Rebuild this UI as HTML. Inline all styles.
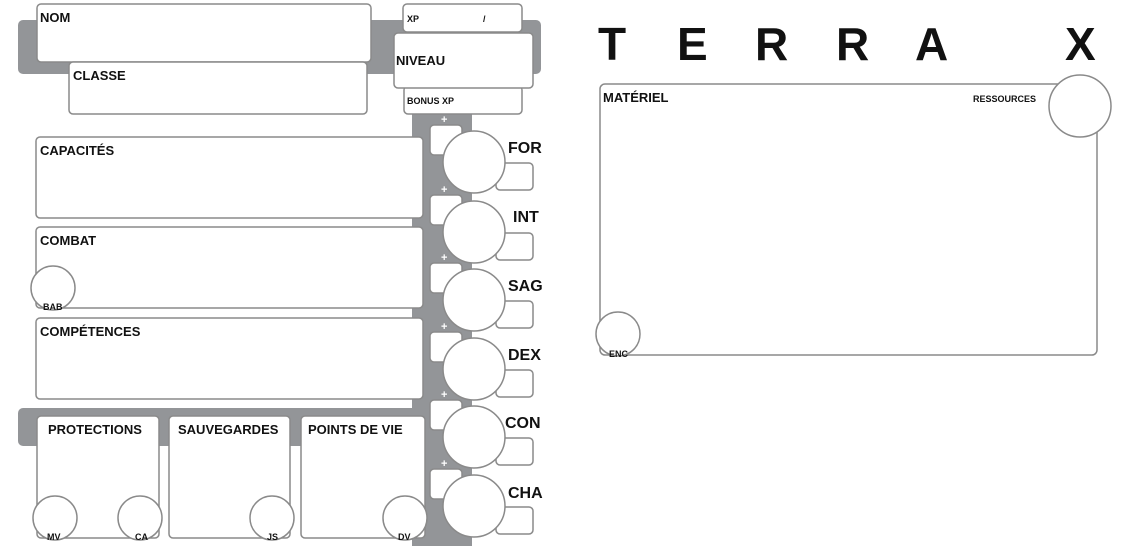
<!DOCTYPE html>
<html><head><meta charset="utf-8"><style>
html,body{margin:0;padding:0;background:#fff;width:1130px;height:550px;overflow:hidden}
svg{display:block}
text{font-family:"Liberation Sans",sans-serif;font-weight:bold;fill:#111}
</style></head><body>
<svg width="1130" height="550" viewBox="0 0 1130 550">
<g fill="#939598">
<rect x="18" y="20" width="523" height="54" rx="5"/>
<rect x="412" y="110" width="60" height="436"/>
<rect x="18" y="408" width="412" height="38" rx="5"/>
</g>
<g fill="#fff" stroke="#8a8a8a" stroke-width="1.5">
<rect x="37" y="4" width="334" height="58" rx="4"/>
<rect x="69" y="62" width="298" height="52" rx="4"/>
<rect x="403" y="4" width="119" height="28" rx="4"/>
<rect x="404" y="86" width="118" height="28" rx="4"/>
<rect x="394" y="33" width="139" height="55" rx="4"/>
<rect x="36" y="137" width="387" height="81" rx="4"/>
<rect x="36" y="227" width="387" height="81" rx="4"/>
<rect x="36" y="318" width="387" height="81" rx="4"/>
<rect x="37" y="416" width="122" height="122" rx="4"/>
<rect x="169" y="416" width="121" height="122" rx="4"/>
<rect x="301" y="416" width="124" height="122" rx="4"/>
<circle cx="53" cy="288" r="22"/>
<circle cx="55" cy="518" r="22"/>
<circle cx="140" cy="518" r="22"/>
<circle cx="272" cy="518" r="22"/>
<circle cx="405" cy="518" r="22"/>
<rect x="600" y="84" width="497" height="271" rx="5"/>
<circle cx="1080" cy="106" r="31"/>
<circle cx="618" cy="334" r="22"/>
</g>
<g fill="#fff" stroke="#8a8a8a" stroke-width="1.5">
<g transform="translate(0,0)"><rect x="430" y="125" width="32" height="30" rx="4"/><rect x="496" y="163" width="37" height="27" rx="4"/><circle cx="474" cy="162" r="31"/></g>
<g transform="translate(0,70)"><rect x="430" y="125" width="32" height="30" rx="4"/><rect x="496" y="163" width="37" height="27" rx="4"/><circle cx="474" cy="162" r="31"/></g>
<g transform="translate(0,138)"><rect x="430" y="125" width="32" height="30" rx="4"/><rect x="496" y="163" width="37" height="27" rx="4"/><circle cx="474" cy="162" r="31"/></g>
<g transform="translate(0,207)"><rect x="430" y="125" width="32" height="30" rx="4"/><rect x="496" y="163" width="37" height="27" rx="4"/><circle cx="474" cy="162" r="31"/></g>
<g transform="translate(0,275)"><rect x="430" y="125" width="32" height="30" rx="4"/><rect x="496" y="163" width="37" height="27" rx="4"/><circle cx="474" cy="162" r="31"/></g>
<g transform="translate(0,344)"><rect x="430" y="125" width="32" height="30" rx="4"/><rect x="496" y="163" width="37" height="27" rx="4"/><circle cx="474" cy="162" r="31"/></g>
</g>
<g font-size="11" fill="#fff" style="fill:#fff">
<text x="441" y="123" style="fill:#fff">+</text>
<text x="441" y="193" style="fill:#fff">+</text>
<text x="441" y="261" style="fill:#fff">+</text>
<text x="441" y="330" style="fill:#fff">+</text>
<text x="441" y="398" style="fill:#fff">+</text>
<text x="441" y="467" style="fill:#fff">+</text>
</g>
<g font-size="13">
<text x="40" y="22">NOM</text>
<text x="73" y="80">CLASSE</text>
<text x="396" y="65">NIVEAU</text>
<text x="40" y="155">CAPACITÉS</text>
<text x="40" y="245">COMBAT</text>
<text x="40" y="336">COMPÉTENCES</text>
<text x="48" y="434">PROTECTIONS</text>
<text x="178" y="434">SAUVEGARDES</text>
<text x="308" y="434">POINTS DE VIE</text>
<text x="603" y="102">MATÉRIEL</text>
</g>
<g font-size="16">
<text x="508" y="153">FOR</text>
<text x="513" y="222">INT</text>
<text x="508" y="291">SAG</text>
<text x="508" y="360">DEX</text>
<text x="505" y="428">CON</text>
<text x="508" y="498">CHA</text>
</g>
<g font-size="9">
<text x="407" y="22">XP</text>
<text x="483" y="22">/</text>
<text x="407" y="104">BONUS XP</text>
<text x="43" y="310">BAB</text>
<text x="47" y="540">MV</text>
<text x="135" y="540">CA</text>
<text x="267" y="540">JS</text>
<text x="398" y="540">DV</text>
<text x="973" y="102">RESSOURCES</text>
<text x="609" y="357">ENC</text>
</g>
<g font-size="46" style="font-family:'Liberation Sans',sans-serif;font-weight:900">
<text x="598" y="60">T</text>
<text x="677" y="60">E</text>
<text x="755" y="60">R</text>
<text x="836" y="60">R</text>
<text x="915" y="60">A</text>
<text x="1065" y="60">X</text>
</g>
</svg>
</body></html>
